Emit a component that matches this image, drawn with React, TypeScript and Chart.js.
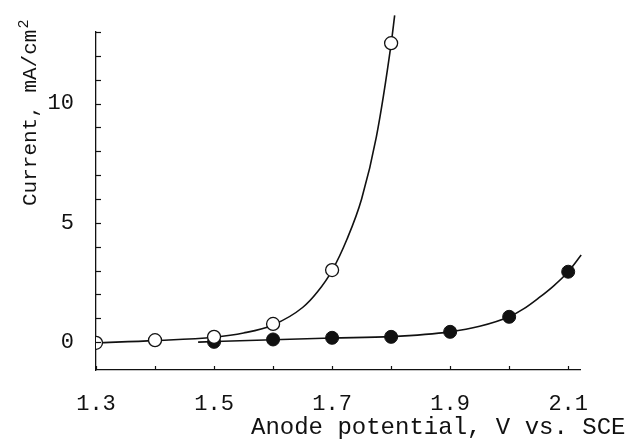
import React, { useEffect, useRef } from "react";
import { Chart, registerables } from "chart.js";

Chart.register(...registerables);

// Measured points (anode potential V vs. SCE, current mA/cm^2)
const openX = [1.3, 1.4, 1.5, 1.6, 1.7, 1.8];
const openY = [-0.03, 0.08, 0.22, 0.76, 3.02, 12.53];
const filledX = [1.5, 1.6, 1.7, 1.8, 1.9, 2.0, 2.1];
const filledY = [0.01, 0.11, 0.18, 0.22, 0.43, 1.06, 2.95];

// Fitted curves
const openCurveX = [1.3, 1.4, 1.5, 1.55, 1.6, 1.65, 1.675, 1.7, 1.725, 1.75, 1.775, 1.8, 1.806];
const openCurveY = [-0.03, 0.06, 0.2, 0.38, 0.72, 1.45, 2.1, 3.0, 4.3, 6.0, 8.6, 12.5, 13.7];
const filledCurveX = [1.473, 1.6, 1.7, 1.8, 1.9, 1.95, 2.0, 2.025, 2.05, 2.075, 2.1, 2.122];
const filledCurveY = [0.0, 0.1, 0.17, 0.23, 0.43, 0.66, 1.06, 1.4, 1.85, 2.35, 2.95, 3.65];

// Axis ticks
const xLabelTicks = [1.3, 1.5, 1.7, 1.9, 2.1];
const xMinorTicks = [1.3, 1.4, 1.5, 1.6, 1.7, 1.8, 1.9, 2.0, 2.1];
const yLabelTicks = [0, 5, 10];
const yMinorTicks = [0, 1, 2, 3, 4, 5, 6, 7, 8, 9, 10, 11, 12, 13];

const xTitle = "Anode potential, V vs. SCE";
const yTitle = "Current, mA/cm";
const yTitleSup = "2";

const FONT = "'Liberation Mono', 'DejaVu Sans Mono', monospace";
const INK = "#111";

const pts = (xs: number[], ys: number[]) => xs.map((x, i) => ({ x, y: ys[i] }));

const decorPlugin = {
  id: "decor",
  afterDraw(chart: any) {
    const { ctx, scales } = chart;
    const xs = scales.x;
    const ys = scales.y;
    ctx.save();
    ctx.strokeStyle = INK;
    ctx.lineWidth = 1.2;
    // inward tick marks
    const yb = ys.getPixelForValue(ys.min);
    xMinorTicks.forEach((v) => {
      const px = Math.round(xs.getPixelForValue(v)) + 0.5;
      ctx.beginPath();
      ctx.moveTo(px, yb);
      ctx.lineTo(px, yb - 4);
      ctx.stroke();
    });
    const xl = xs.getPixelForValue(xs.min);
    yMinorTicks.forEach((v) => {
      const py = Math.round(ys.getPixelForValue(v)) + 0.5;
      ctx.beginPath();
      ctx.moveTo(xl, py);
      ctx.lineTo(xl + 5, py);
      ctx.stroke();
    });
    // titles
    ctx.fillStyle = INK;
    ctx.font = `24px ${FONT}`;
    ctx.textAlign = "left";
    ctx.textBaseline = "alphabetic";
    ctx.fillText(xTitle, 251, 434);

    ctx.translate(36, 206);
    ctx.rotate(-Math.PI / 2);
    ctx.font = `21px ${FONT}`;
    ctx.fillText(yTitle, 0, 0);
    const w = ctx.measureText(yTitle).width;
    ctx.font = `15px ${FONT}`;
    ctx.fillText(yTitleSup, w + 1, -8);
    ctx.restore();
  },
};

export default function App() {
  const ref = useRef<HTMLCanvasElement | null>(null);
  useEffect(() => {
    if (!ref.current) return;
    const chart = new Chart(ref.current, {
      type: "scatter",
      data: {
        datasets: [
          {
            label: "open",
            data: pts(openX, openY),
            showLine: false,
            pointStyle: "circle",
            pointRadius: 6.5,
            pointBackgroundColor: "#fff",
            pointBorderColor: INK,
            pointBorderWidth: 1.3,
          },
          {
            label: "filled",
            data: pts(filledX, filledY),
            showLine: false,
            pointStyle: "circle",
            pointRadius: 6.5,
            pointBackgroundColor: INK,
            pointBorderColor: INK,
            pointBorderWidth: 1,
          },
          {
            label: "open fit",
            data: pts(openCurveX, openCurveY),
            showLine: true,
            pointRadius: 0,
            borderColor: INK,
            borderWidth: 1.6,
            cubicInterpolationMode: "monotone",
            clip: false as any,
          },
          {
            label: "filled fit",
            data: pts(filledCurveX, filledCurveY),
            showLine: true,
            pointRadius: 0,
            borderColor: INK,
            borderWidth: 1.6,
            cubicInterpolationMode: "monotone",
            clip: false as any,
          },
        ],
      },
      options: {
        responsive: false,
        animation: false,
        layout: { padding: { top: 32, right: 62, left: 0, bottom: 0 } },
        plugins: { legend: { display: false }, tooltip: { enabled: false } },
        scales: {
          x: {
            type: "linear",
            min: 1.3,
            max: 2.12,
            grid: { display: false },
            border: { display: true, color: INK, width: 1.3 },
            afterBuildTicks: (s: any) => {
              s.ticks = xLabelTicks.map((v) => ({ value: v }));
            },
            afterFit: (s: any) => {
              s.height = 76;
            },
            ticks: {
              color: INK,
              padding: 13,
              maxRotation: 0,
              autoSkip: false,
              font: { family: FONT, size: 22 },
              callback: (v: any) => Number(v).toFixed(1),
            },
          },
          y: {
            type: "linear",
            min: -1.17,
            max: 13,
            grid: { display: false },
            border: { display: true, color: INK, width: 1.3 },
            afterBuildTicks: (s: any) => {
              s.ticks = yLabelTicks.map((v) => ({ value: v }));
            },
            afterFit: (s: any) => {
              s.width = 96;
            },
            ticks: {
              color: INK,
              padding: 14,
              autoSkip: false,
              font: { family: FONT, size: 22 },
              callback: (v: any) => String(v),
            },
          },
        },
      },
      plugins: [decorPlugin],
    });
    return () => chart.destroy();
  }, []);
  return (
    <div style={{ position: "absolute", left: 0, top: 0, width: 642, height: 446, background: "#fff" }}>
      <canvas ref={ref} width={642} height={446} style={{ display: "block" }} />
    </div>
  );
}
